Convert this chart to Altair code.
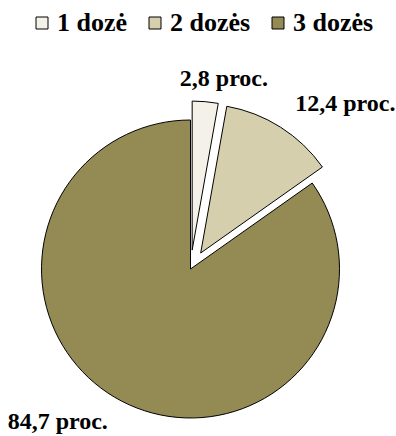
import math

import altair as alt
import pandas as pd

# Vaccination status shares (percent of vaccinated people)
categories = ["1 dozė", "2 dozės", "3 dozės"]
shares = [2.8, 12.4, 84.7]
fill_colors = ["#f3f1e8", "#d5cfae", "#948a54"]

# Pie geometry in pixels
CX, CY, R = 190.5, 269.0, 149.0
EXPLODE = 19.0
LABEL_GAP = 7.0

total = sum(shares)
rows = []
acc = 0.0
for cat, val in zip(categories, shares):
    t0 = acc / total * 2 * math.pi
    acc += val
    t1 = acc / total * 2 * math.pi
    mid = (t0 + t1) / 2
    off = EXPLODE if cat != "3 dozės" else 0.0
    ring = R + off + LABEL_GAP
    rows.append({
        "cat": cat,
        "share": val,
        "t0": t0,
        "t1": t1,
        "cx": CX + off * math.sin(mid),
        "cy": CY - off * math.cos(mid),
        "lx": CX + ring * math.sin(mid),
        "ly": CY - ring * math.cos(mid),
        "label": f"{val:.1f}".replace(".", ",") + " proc.",
    })
df = pd.DataFrame(rows)

base = alt.Chart(df)

arcs = base.mark_arc(radius=R, stroke="#000000", strokeWidth=1).encode(
    x=alt.X("cx:Q", scale=None, axis=None),
    y=alt.Y("cy:Q", scale=None, axis=None),
    theta=alt.Theta("t0:Q", scale=None),
    theta2="t1:Q",
    color=alt.Color(
        "cat:N",
        scale=alt.Scale(domain=categories, range=fill_colors),
        legend=alt.Legend(
            title=None,
            orient="none",
            direction="horizontal",
            legendX=29,
            legendY=10,
            symbolType="square",
            symbolSize=144,
            symbolStrokeColor="#000000",
            symbolStrokeWidth=1,
            symbolOpacity=1,
            labelFont="Liberation Serif",
            labelFontWeight="bold",
            labelFontSize=26,
            labelColor="#000000",
            labelOffset=2,
            columnPadding=14,
            labelLimit=200,
        ),
    ),
)


def label_layer(cat, dx, dy):
    return base.transform_filter(alt.datum.cat == cat).mark_text(
        font="Liberation Serif",
        fontWeight="bold",
        fontSize=24,
        color="#000000",
        align="center",
        baseline="middle",
        dx=dx,
        dy=dy,
    ).encode(
        x=alt.X("lx:Q", scale=None, axis=None),
        y=alt.Y("ly:Q", scale=None, axis=None),
        text="label:N",
    )


chart = alt.layer(
    arcs,
    label_layer("1 dozė", 18, -16),
    label_layer("2 dozės", 61, -17),
    label_layer("3 dozės", -61, 14),
).properties(
    width=396,
    height=436,
    autosize=alt.AutoSizeParams(type="none"),
    padding=0,
).configure_view(stroke=None)

chart.save("out.html", embed_options={"renderer": "svg", "actions": False})
